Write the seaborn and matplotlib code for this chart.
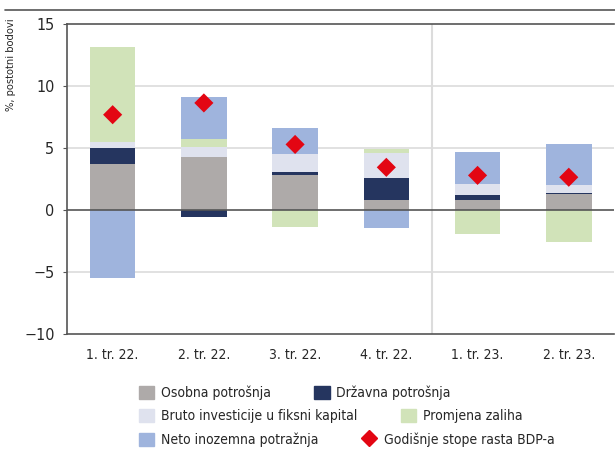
import numpy as np
import matplotlib.pyplot as plt
import seaborn as sns
from matplotlib.patches import Patch
from matplotlib.lines import Line2D

# Podaci (postotni bodovi)
kvartali = ["1. tr. 22.", "2. tr. 22.", "3. tr. 22.", "4. tr. 22.", "1. tr. 23.", "2. tr. 23."]
osobna = [3.7, 4.3, 2.8, 0.8, 0.8, 1.3]
drzavna = [1.3, -0.55, 0.3, 1.8, 0.4, 0.05]
bruto = [0.5, 0.8, 1.45, 2.0, 0.9, 0.7]
zalihe = [7.7, 0.6, -1.4, 0.3, -1.9, -2.6]
neto = [-5.5, 3.4, 2.05, -1.45, 2.55, 3.3]
bdp = [7.7, 8.65, 5.3, 3.45, 2.8, 2.65]

nazivi = ["Osobna potrošnja", "Državna potrošnja", "Bruto investicije u fiksni kapital",
          "Promjena zaliha", "Neto inozemna potražnja"]
boje = ["#aeaaa9", "#25355f", "#dfe2ee", "#d1e3b9", "#9fb4dd"]

sns.set_theme(style="white")
plt.rcParams['font.family'] = ['DejaVu Sans']
plt.rcParams['font.stretch'] = 'condensed'

fig = plt.figure(figsize=(6.15, 4.5), dpi=100)
ax = fig.add_axes([0.109, 0.258, 0.89, 0.688])

x = np.arange(len(kvartali))
pos = np.zeros(len(x))
neg = np.zeros(len(x))
for vals, boja in zip([osobna, drzavna, bruto, zalihe, neto], boje):
    v = np.array(vals)
    dno = np.where(v >= 0, pos, neg)
    ax.bar(x, v, bottom=dno, width=0.5, color=boja, linewidth=0, zorder=3)
    pos = pos + np.clip(v, 0, None)
    neg = neg + np.clip(v, None, 0)

sns.scatterplot(x=x, y=bdp, marker="D", s=95, color="#e30613", edgecolor="none", ax=ax, zorder=5)

ax.set_xlim(-0.5, len(x) - 0.5)
ax.set_ylim(-10, 15)
ax.set_yticks([-10, -5, 0, 5, 10, 15])
ax.set_yticklabels(["\u221210", "\u22125", "0", "5", "10", "15"])
ax.set_xticks(x)
ax.set_xticklabels(kvartali)
for g in [-5, 5, 10]:
    ax.axhline(g, color="#dcdcdc", lw=1.2, zorder=1)
ax.axhline(0, color="#555555", lw=1.2, zorder=4)
ax.axvline(3.5, color="#dcdcdc", lw=1.5, zorder=1)

for s in ["top", "bottom", "left"]:
    ax.spines[s].set_color("#555555")
    ax.spines[s].set_linewidth(1.2)
ax.spines["right"].set_visible(False)
ax.tick_params(axis="y", left=True, length=3, width=0.8, color="#555555", labelsize=11.5, pad=6)
ax.tick_params(axis="x", bottom=False, length=0, labelsize=10, pad=10)
fig.text(0.018, 0.959, "%, postotni bodovi", rotation=90, ha="center", va="top", fontsize=8)

# linija na vrhu slike
fig.add_artist(Line2D([0.008, 1.0], [0.978, 0.978], color="#555555", lw=1.2))

# legenda u tri reda
redovi = [
    [Patch(color=boje[0], label=nazivi[0]), Patch(color=boje[1], label=nazivi[1])],
    [Patch(color=boje[2], label=nazivi[2]), Patch(color=boje[3], label=nazivi[3])],
    [Patch(color=boje[4], label=nazivi[4]),
     Line2D([], [], marker="D", color="#e30613", ls="none", markersize=8, label="Godišnje stope rasta BDP-a")],
]
for i, ruke in enumerate(redovi):
    fig.legend(handles=ruke, ncol=2, loc="center left", bbox_to_anchor=(0.226, 0.127 - i * 0.052),
               frameon=False, fontsize=10, handlelength=1.1, handleheight=1.1,
               handletextpad=0.5, columnspacing=3.1, borderpad=0, borderaxespad=0)

fig.savefig("out.png", dpi=100)
